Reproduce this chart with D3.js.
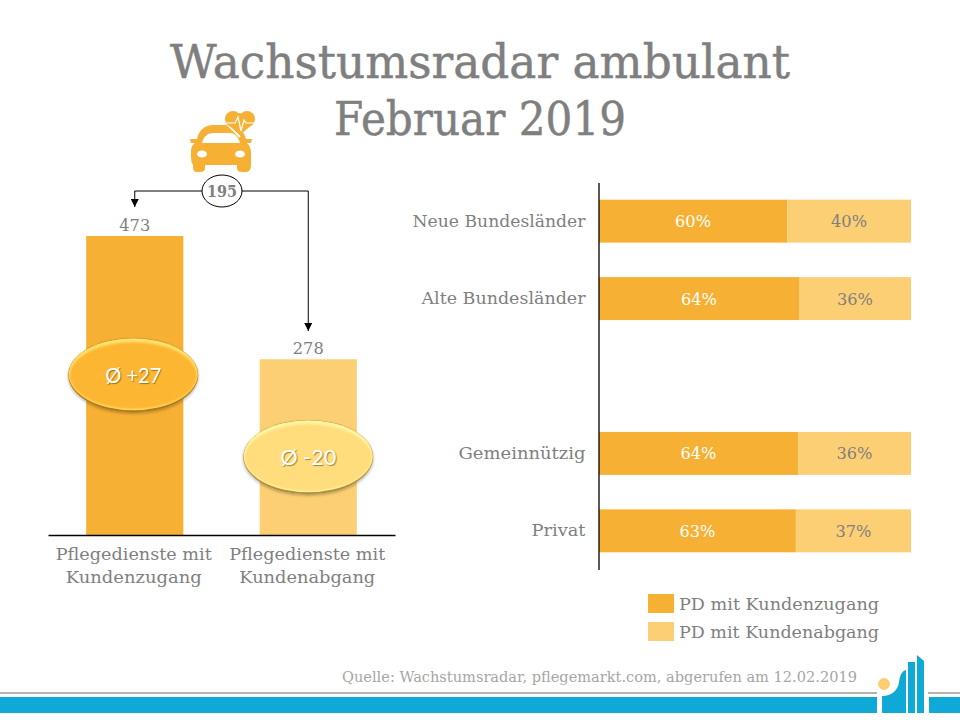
<!DOCTYPE html>
<html lang="de">

<head>
    <script src="https://d3js.org/d3.v7.min.js"></script>
    <meta charset="utf-8" />
    <style>
        html, body { margin: 0; padding: 0; background: #fff; }
        svg { display: block; }
        text { font-family: "DejaVu Serif", serif; }
        .domain { stroke: #000; stroke-width: 1.3; }
    </style>
</head>

<body>
    <script>

        const w = 960;
        const h = 720;

        // left chart
        const leftCategories = ["Pflegedienste mit|Kundenzugang", "Pflegedienste mit|Kundenabgang"];
        const leftValues = [473, 278];
        const leftAverages = ["Ø +27", "Ø -20"];
        const diffValue = 195;

        // right chart, the empty slot is the gap between the two groups
        const rightCategories = ["Neue Bundesländer", "Alte Bundesländer", " ", "Gemeinnützig", "Privat"];
        const zugangShare = [60.3, 64.1, null, 63.8, 63.1];
        const abgangShare = [39.7, 35.9, null, 36.2, 36.9];
        const zugangLabels = ["60%", "64%", "", "64%", "63%"];
        const abgangLabels = ["40%", "36%", "", "36%", "37%"];

        const legendLabels = ["PD mit Kundenzugang", "PD mit Kundenabgang"];
        const titleLines = ["Wachstumsradar ambulant", "Februar 2019"];
        const sourceText = "Quelle: Wachstumsradar, pflegemarkt.com, abgerufen am 12.02.2019";

        const dark = "#f6b034";
        const light = "#fdcf74";
        const grey = "#7f7f7f";
        const blue = "#0ea9d6";

        // oval colours: rim below, highlight above, face
        const ovalRim = ["#a8781a", "#a88a38"];
        const ovalHighlight = ["#ffe26a", "#fff5a0"];
        const ovalFace = ["#fdb632", "#ffdc7c"];

        const svg = d3.select("body")
            .append("svg")
            .attr("width", w)
            .attr("height", h);

        const defs = svg.append("defs");

        // arrow head
        defs.append("marker")
            .attr("id", "arrow")
            .attr("viewBox", "0 0 8 8")
            .attr("refX", 8).attr("refY", 4)
            .attr("markerWidth", 8).attr("markerHeight", 8)
            .attr("markerUnits", "userSpaceOnUse")
            .attr("orient", "auto")
            .append("path").attr("d", "M0,0L8,4L0,8Z").attr("fill", "#000");

        const shadow = defs.append("filter").attr("id", "shadow")
            .attr("x", "-20%").attr("y", "-20%").attr("width", "140%").attr("height", "150%");
        shadow.append("feDropShadow")
            .attr("dx", 0).attr("dy", 1.5).attr("stdDeviation", 1.5)
            .attr("flood-color", "#000").attr("flood-opacity", 0.3);

        defs.append("filter").attr("id", "soft")
            .append("feGaussianBlur").attr("stdDeviation", 1);

        // title
        svg.selectAll("text.title")
            .data(titleLines)
            .enter()
            .append("text")
            .attr("class", "title")
            .attr("x", 480)
            .attr("y", (d, i) => 78 + i * 57)
            .attr("text-anchor", "middle")
            .attr("fill", grey)
            .attr("stroke", grey)
            .attr("stroke-width", 0.5)
            .style("font-size", "46px")
            .attr("textLength", (d, i) => i == 0 ? 620 : 292)
            .attr("lengthAdjust", "spacingAndGlyphs")
            .text(d => d);

        // left bars
        const xLeft = d3.scaleBand()
            .domain(leftCategories)
            .range([48, 395])
            .paddingInner(0.44)
            .paddingOuter(0.22);

        const yLeft = d3.scaleLinear()
            .domain([0, 473])
            .range([535, 236]);

        svg.selectAll("rect.left")
            .data(leftValues)
            .enter()
            .append("rect")
            .attr("class", "left")
            .attr("x", (d, i) => xLeft(leftCategories[i]))
            .attr("y", d => yLeft(d))
            .attr("width", xLeft.bandwidth())
            .attr("height", d => yLeft(0) - yLeft(d))
            .attr("fill", (d, i) => i == 0 ? dark : light);

        svg.selectAll("text.leftval")
            .data(leftValues)
            .enter()
            .append("text")
            .attr("class", "leftval")
            .attr("x", (d, i) => xLeft(leftCategories[i]) + xLeft.bandwidth() / 2)
            .attr("y", d => yLeft(d) - 5)
            .attr("text-anchor", "middle")
            .attr("fill", grey)
            .style("font-size", "17px")
            .attr("textLength", 31)
            .attr("lengthAdjust", "spacingAndGlyphs")
            .text(d => d);

        const xLeftAxis = svg.append("g")
            .attr("transform", "translate(0, 535)")
            .call(d3.axisBottom(xLeft).tickSize(0).tickPadding(0));
        xLeftAxis.selectAll(".tick text").remove();
        xLeftAxis.selectAll(".tick").each(function (d) {
            const t = d3.select(this).append("text")
                .attr("text-anchor", "middle")
                .attr("fill", grey)
                .style("font-size", "17.5px");
            d.split("|").forEach((line, i) => {
                t.append("tspan")
                    .attr("x", -1)
                    .attr("y", 25 + i * 23)
                    .attr("textLength", i == 0 ? 156 : 136)
                    .attr("lengthAdjust", "spacingAndGlyphs")
                    .text(line);
            });
        });

        // ovals
        const ovalY = [375, 457];
        const ovals = svg.selectAll("g.oval")
            .data(leftAverages)
            .enter()
            .append("g")
            .attr("class", "oval")
            .attr("transform", (d, i) => `translate(${xLeft(leftCategories[i]) + xLeft.bandwidth() / 2 - (i == 0 ? 1.5 : 0)}, ${ovalY[i]})`);
        ovals.append("ellipse")
            .attr("rx", 65).attr("ry", 37)
            .attr("fill", (d, i) => ovalRim[i])
            .attr("filter", "url(#shadow)");
        ovals.append("ellipse")
            .attr("cy", -0.8)
            .attr("rx", 64.5).attr("ry", 36)
            .attr("fill", (d, i) => ovalHighlight[i]);
        ovals.append("ellipse")
            .attr("cy", 0.6)
            .attr("rx", 63.5).attr("ry", 33.5)
            .attr("fill", (d, i) => ovalFace[i])
            .attr("filter", "url(#soft)");
        ovals.append("text")
            .attr("y", 8)
            .attr("text-anchor", "middle")
            .attr("fill", "#fff")
            .style("font-family", "Lato, 'Open Sans', sans-serif")
            .style("font-size", "22px")
            .style("text-shadow", "1px 1px 1px rgba(90,60,0,0.55)")
            .attr("textLength", 56)
            .attr("lengthAdjust", "spacingAndGlyphs")
            .text(d => d);

        // connector between the bars
        const xA = xLeft(leftCategories[0]) + xLeft.bandwidth() / 2;
        const xB = xLeft(leftCategories[1]) + xLeft.bandwidth() / 2;
        svg.append("path")
            .attr("d", `M222,191H${xA}V207`)
            .attr("fill", "none").attr("stroke", "#000").attr("stroke-width", 1)
            .attr("marker-end", "url(#arrow)");
        svg.append("path")
            .attr("d", `M222,191H${xB}V331`)
            .attr("fill", "none").attr("stroke", "#000").attr("stroke-width", 1)
            .attr("marker-end", "url(#arrow)");
        svg.append("ellipse")
            .attr("cx", 222).attr("cy", 191).attr("rx", 20).attr("ry", 16)
            .attr("fill", "#fff").attr("stroke", "#000").attr("stroke-width", 1);
        svg.append("text")
            .attr("x", 222).attr("y", 197)
            .attr("text-anchor", "middle")
            .attr("fill", grey)
            .style("font-size", "17px")
            .style("font-weight", "bold")
            .attr("textLength", 30)
            .attr("lengthAdjust", "spacingAndGlyphs")
            .text(diffValue);

        // car with heart
        const icon = svg.append("g").attr("fill", dark);
        icon.append("path")
            .attr("d", "M190,139H197C199,130 205,125 213,125H229C238,125 244,131 246,139H252L251,143H247C250,146 251,149 251,153V165Q251,172 246,172H242Q237,172 237,168V165H205V168Q205,172 200,172H197Q193,172 193,167V165Q191,162 191,157V151C191,148 192,145 195,143H191ZM202,143H240C238,136 235,133 228,133H214C207,133 204,136 202,143Z")
            .attr("fill-rule", "evenodd");
        icon.append("ellipse").attr("cx", 202).attr("cy", 154).attr("rx", 5).attr("ry", 3.5).attr("fill", "#fff");
        icon.append("ellipse").attr("cx", 240).attr("cy", 154).attr("rx", 5).attr("ry", 3.5).attr("fill", "#fff");
        icon.append("path")
            .attr("d", "M240,137L226,123").attr("stroke", "#fff").attr("stroke-width", 2);
        icon.append("circle").attr("cx", 233).attr("cy", 119).attr("r", 8);
        icon.append("circle").attr("cx", 247).attr("cy", 119).attr("r", 8);
        icon.append("path").attr("d", "M226,123L240,135L254,123L240,113Z");
        icon.append("path")
            .attr("d", "M226,123H235L238,117L241,131L244,120L246,123H255")
            .attr("fill", "none").attr("stroke", "#fff").attr("stroke-width", 1.2);

        // right stacked bars
        const xRight = d3.scaleLinear()
            .domain([0, 100])
            .range([599, 911]);

        const yRight = d3.scaleBand()
            .domain(rightCategories)
            .range([182.5, 569.5])
            .paddingInner(0.445)
            .paddingOuter(0.222);

        function stackedBars(cls, values, labels, start, fill, textFill) {
            const row = d => rightCategories[d];
            const rows = values.map((v, i) => i).filter(i => values[i] != null);
            svg.selectAll("rect." + cls)
                .data(rows)
                .enter()
                .append("rect")
                .attr("class", cls)
                .attr("x", i => xRight(start(i)))
                .attr("y", i => yRight(row(i)))
                .attr("width", i => xRight(start(i) + values[i]) - xRight(start(i)))
                .attr("height", yRight.bandwidth())
                .attr("fill", fill);
            svg.selectAll("text." + cls)
                .data(rows)
                .enter()
                .append("text")
                .attr("class", cls)
                .attr("x", i => xRight(start(i) + values[i] / 2))
                .attr("y", i => yRight(row(i)) + yRight.bandwidth() / 2 + 6)
                .attr("text-anchor", "middle")
                .attr("fill", textFill)
                .style("font-size", "17px")
                .attr("textLength", 36)
                .attr("lengthAdjust", "spacingAndGlyphs")
                .text(i => labels[i]);
        }
        stackedBars("zugang", zugangShare, zugangLabels, i => 0, dark, "#fff");
        stackedBars("abgang", abgangShare, abgangLabels, i => zugangShare[i], light, grey);

        const yRightAxis = svg.append("g")
            .attr("transform", "translate(598.5, 0)")
            .call(d3.axisLeft(yRight).tickSize(0).tickPadding(13));
        yRightAxis.selectAll(".tick text")
            .attr("fill", grey)
            .style("font-size", "17.5px")
            .attr("textLength", d => ({ "Neue Bundesländer": 173, "Alte Bundesländer": 164, "Gemeinnützig": 127, "Privat": 54 })[d] || null)
            .attr("lengthAdjust", "spacingAndGlyphs");

        // legend
        const legend = svg.selectAll("g.legend")
            .data(legendLabels)
            .enter()
            .append("g")
            .attr("class", "legend")
            .attr("transform", (d, i) => `translate(648, ${594 + i * 28})`);
        legend.append("rect")
            .attr("width", 26).attr("height", 19)
            .attr("fill", (d, i) => i == 0 ? dark : light);
        legend.append("text")
            .attr("x", 31).attr("y", 16)
            .attr("fill", grey)
            .style("font-size", "17.5px")
            .attr("textLength", 200)
            .attr("lengthAdjust", "spacingAndGlyphs")
            .text(d => d);

        // source line
        svg.append("text")
            .attr("x", 342).attr("y", 682)
            .attr("fill", "#a6a6a6")
            .style("font-size", "14.5px")
            .attr("textLength", 515)
            .attr("lengthAdjust", "spacingAndGlyphs")
            .text(sourceText);

        // footer band and logo
        const footer = svg.append("g");
        footer.append("rect").attr("x", 0).attr("y", 692).attr("width", 877).attr("height", 2).attr("fill", "#b3b3b3");
        footer.append("rect").attr("x", 928).attr("y", 692).attr("width", 32).attr("height", 2).attr("fill", "#b3b3b3");
        footer.append("rect").attr("x", 0).attr("y", 697).attr("width", 877).attr("height", 16).attr("fill", blue);
        footer.append("rect").attr("x", 929).attr("y", 697).attr("width", 31).attr("height", 16).attr("fill", blue);
        footer.append("path").attr("d", "M882,713V696C892,696 898,690 899,682C900,675 902,671 906,670V713Z").attr("fill", blue);
        footer.append("rect").attr("x", 908).attr("y", 662).attr("width", 7).attr("height", 51).attr("fill", blue);
        footer.append("path").attr("d", "M917,713V655L924,661V713Z").attr("fill", blue);
        footer.append("circle").attr("cx", 884).attr("cy", 684).attr("r", 5.5).attr("fill", light).attr("stroke", "#f7b034").attr("stroke-width", 0.5);

    </script>
</body>

</html>
